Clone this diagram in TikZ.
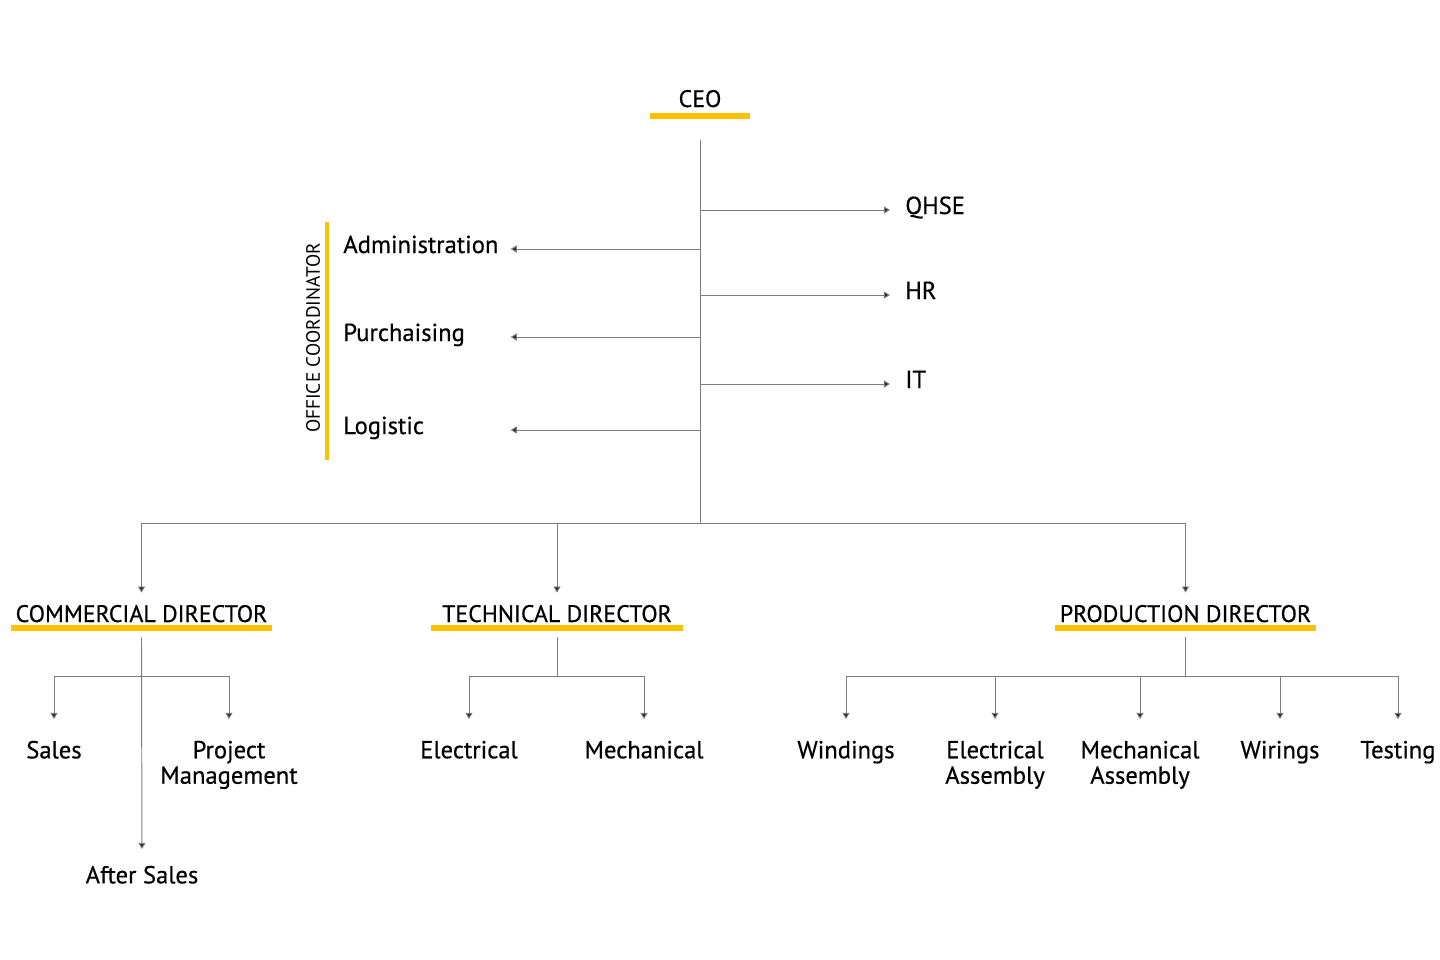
\documentclass[tikz,border=0pt]{standalone}
\usepackage{fontspec}
\setmainfont{PT Sans}[FakeBold=0.5]
\newfontfamily\lightfont{PT Sans}
\usetikzlibrary{arrows.meta,positioning,calc}
\definecolor{OrgYellow}{RGB}{255,192,0}
\definecolor{OrgLine}{RGB}{125,125,125}
\tikzset{
  head/.style={font=\fontsize{13.6}{15}\selectfont, anchor=base, inner sep=0pt,
    text height=0.58cm, text depth=0pt},
  litem/.style={font=\fontsize{14}{15}\selectfont, anchor=west, inner sep=0pt,
    text width=3.34cm, align=left, text height=0.34cm, text depth=0.18cm},
  ritem/.style={font=\fontsize{14}{15}\selectfont, anchor=west, inner xsep=0.3cm,
    inner ysep=0pt, text height=0.34cm, text depth=0.18cm},
  sub/.style={font=\fontsize{14}{14.5}\selectfont, anchor=north, align=center,
    inner xsep=0pt, inner ysep=0.43cm},
  office/.style={font=\lightfont\fontsize{11}{11}\selectfont, rotate=90, inner sep=0pt},
  ybar/.style={draw=OrgYellow, line width=3pt},
  line/.style={draw=OrgLine, line width=0.55pt},
  arr/.style={line, -{Triangle[length=3.5pt,width=4pt,fill=black!85]}}
}
\begin{document}
\begin{tikzpicture}[x=0.02cm, y=-0.02cm]
  \useasboundingbox (0,0) rectangle (1440,960);
  % CEO and trunk
  \node[head, minimum width=2cm] (ceo) at (700,107) {CEO};
  \draw[ybar] ([yshift=-0.18cm]ceo.base west) -- ([yshift=-0.18cm]ceo.base east);
  \coordinate (ceot) at (700,140);
  \coordinate (hub) at (700,523);
  \draw[line] (ceot) -- (hub);

  % staff functions
  \node[ritem] (qhse) at (890,210) {QHSE};
  \node[ritem] (hr) at (890,295) {HR};
  \node[ritem] (it) at (890,384) {IT};
  \node[litem] (adm) at (343,249) {Administration};
  \node[litem] (pur) at (343,337) {Purchaising};
  \node[litem] (logi) at (343,430) {Logistic};
  \foreach \n in {qhse,hr,it,adm,pur,logi}
    \draw[arr] (\n -| hub) -- (\n);
  \draw[ybar, line width=2.6pt] (327,222) -- (327,460);
  \node[office] (oc) at (313,338) {OFFICE COORDINATOR};

  % directors
  \node[head, minimum width=5.22cm] (com) at (141.5,622) {COMMERCIAL DIRECTOR};
  \node[head, minimum width=5.04cm] (tech) at (557,622) {TECHNICAL DIRECTOR};
  \node[head, minimum width=5.22cm] (prod) at (1185.5,622) {PRODUCTION DIRECTOR};
  \foreach \n in {com,tech,prod}
    \draw[ybar] ([yshift=-0.12cm]\n.base west) -- ([yshift=-0.12cm]\n.base east);
  \draw[line] (com |- hub) -- (prod |- hub);
  \foreach \n in {com,tech,prod}
    \draw[arr] (\n |- hub) -- (\n);

  % commercial
  \coordinate (cbus) at ([yshift=-1.08cm]com.south);
  \node[sub] (sal) at (54,719) {Sales};
  \node[sub] (pm) at (229,719) {Project\\Management};
  \node[sub, inner ysep=0.33cm] (aft) at (142,849) {After Sales};
  \draw[arr] ([yshift=-0.3cm]com.south) -- (aft);
  \foreach \n in {sal,pm}
    \draw[arr] (cbus) -| (\n);

  % technical
  \coordinate (tbus) at ([yshift=-1.08cm]tech.south);
  \node[sub] (tel) at (469,719) {Electrical};
  \node[sub] (tmech) at (644,719) {Mechanical};
  \draw[line] ([yshift=-0.3cm]tech.south) -- (tbus);
  \foreach \n in {tel,tmech}
    \draw[arr] (tbus) -| (\n);

  % production
  \coordinate (pbus) at ([yshift=-1.08cm]prod.south);
  \node[sub] (wind) at (846,719) {Windings};
  \node[sub] (elas) at (995,719) {Electrical\\Assembly};
  \node[sub] (meas) at (1140,719) {Mechanical\\Assembly};
  \node[sub] (wir) at (1280,719) {Wirings};
  \node[sub] (test) at (1398,719) {Testing};
  \draw[line] ([yshift=-0.3cm]prod.south) -- (pbus);
  \foreach \n in {wind,elas,meas,wir,test}
    \draw[arr] (pbus) -| (\n);
\end{tikzpicture}
\end{document}
